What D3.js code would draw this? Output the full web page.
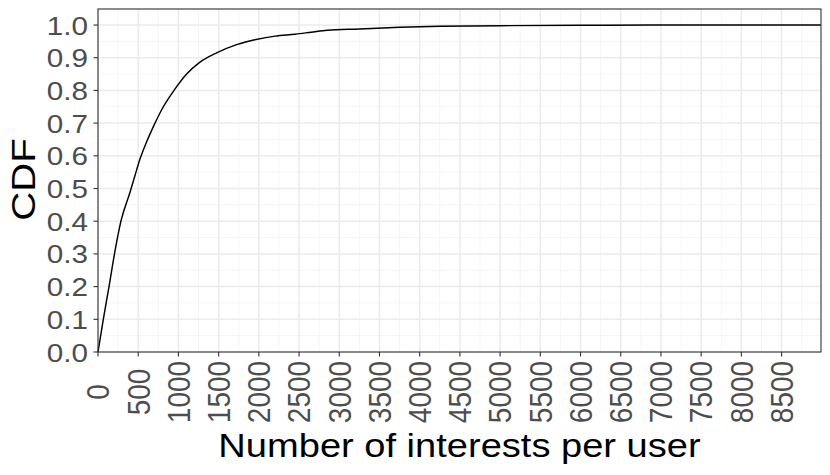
<!DOCTYPE html>
<html>
<head>
<meta charset="utf-8">
<script src="https://cdn.jsdelivr.net/npm/d3@7"></script>
<style>
  html, body { margin: 0; padding: 0; background: #fff; }
  svg { display: block; }
  text { font-family: "Liberation Sans", Arial, Helvetica, sans-serif; }
</style>
</head>
<body>
<svg id="chart" width="830" height="475"></svg>
<script>
// ---- data ----
const interests = [0, 66, 137, 205, 285, 400, 460, 522, 600, 690, 812, 945, 1102, 1260, 1475, 1724, 1950, 2200, 2450, 2650, 2850, 3250, 3750, 4250, 5000, 6000, 6900, 8990];
const cdf       = [0, 0.10, 0.20, 0.30, 0.40, 0.49, 0.54, 0.59, 0.64, 0.69, 0.75, 0.80, 0.85, 0.885, 0.915, 0.940, 0.955, 0.966, 0.972, 0.978, 0.984, 0.988, 0.993, 0.996, 0.998, 0.999, 1.0, 1.0];
const xTicks = d3.range(0, 8501, 500);
const yTicks = d3.range(0, 11).map(i => i / 10);
const xMinor = d3.range(250, 9000, 500);
const yMinor = d3.range(0, 11).map(i => i / 10 + 0.05);
const xTitle = "Number of interests per user";
const yTitle = "CDF";

// ---- layout ----
const pL = 98, pR = 821, pT = 9, pB = 352;
const sx = 1.12; // horizontal text stretch seen in reference

const svg = d3.select("#chart");
const x = d3.scaleLinear().domain([0, 8990]).range([pL, pR]);
const y = d3.scaleLinear().domain([0, 1.049]).range([pB, pT]);

// grid
const g = svg.append("g");
g.selectAll(".xminor").data(xMinor.filter(v => x(v) < pR)).join("line")
  .attr("x1", d => x(d)).attr("x2", d => x(d)).attr("y1", pT).attr("y2", pB)
  .attr("stroke", "#F2F2F2").attr("stroke-width", 0.8);
g.selectAll(".yminor").data(yMinor).join("line")
  .attr("y1", d => y(d)).attr("y2", d => y(d)).attr("x1", pL).attr("x2", pR)
  .attr("stroke", "#F2F2F2").attr("stroke-width", 0.8);
g.selectAll(".xmajor").data(xTicks).join("line")
  .attr("x1", d => x(d)).attr("x2", d => x(d)).attr("y1", pT).attr("y2", pB)
  .attr("stroke", "#EBEBEB").attr("stroke-width", 1.5);
g.selectAll(".ymajor").data(yTicks).join("line")
  .attr("y1", d => y(d)).attr("y2", d => y(d)).attr("x1", pL).attr("x2", pR)
  .attr("stroke", "#EBEBEB").attr("stroke-width", 1.5);

// line
const pts = interests.map((v, i) => [v, cdf[i]]);
svg.append("path").datum(pts)
  .attr("fill", "none").attr("stroke", "#000").attr("stroke-width", 1.45)
  .attr("stroke-linejoin", "round")
  .attr("d", d3.line().curve(d3.curveMonotoneX).x(d => x(d[0])).y(d => y(d[1])));

// panel border
svg.append("rect").attr("x", pL).attr("y", pT)
  .attr("width", pR - pL).attr("height", pB - pT)
  .attr("fill", "none").attr("stroke", "#333").attr("stroke-width", 1.1);

// ticks
svg.selectAll(".xt").data(xTicks).join("line")
  .attr("x1", d => x(d)).attr("x2", d => x(d)).attr("y1", pB).attr("y2", pB + 4.5)
  .attr("stroke", "#333").attr("stroke-width", 1.1);
svg.selectAll(".yt").data(yTicks).join("line")
  .attr("y1", d => y(d)).attr("y2", d => y(d)).attr("x1", pL - 4.5).attr("x2", pL)
  .attr("stroke", "#333").attr("stroke-width", 1.1);

// tick labels
svg.selectAll(".yl").data(yTicks).join("text")
  .attr("transform", d => `translate(${pL - 10},${y(d)}) scale(${sx},1)`)
  .attr("text-anchor", "end").attr("dy", "0.36em")
  .attr("font-size", 26.5).attr("fill", "#4D4D4D")
  .text(d => d.toFixed(1));
svg.selectAll(".xl").data(xTicks).join("text")
  .attr("transform", d => `translate(${x(d)},392) scale(${sx},1) rotate(-90)`)
  .attr("text-anchor", "middle").attr("dy", "0.36em")
  .attr("font-size", 28).attr("fill", "#4D4D4D")
  .text(d => d);

// titles
svg.append("text")
  .attr("transform", `translate(${(pL + pR) / 2},457) scale(${sx},1)`)
  .attr("text-anchor", "middle").attr("font-size", 34).attr("fill", "#000")
  .text(xTitle);
svg.append("text")
  .attr("transform", `translate(34.5,${(pT + pB) / 2 - 1}) scale(1,1.18) rotate(-90)`)
  .attr("text-anchor", "middle").attr("font-size", 34).attr("fill", "#000")
  .text(yTitle);
</script>
</body>
</html>
